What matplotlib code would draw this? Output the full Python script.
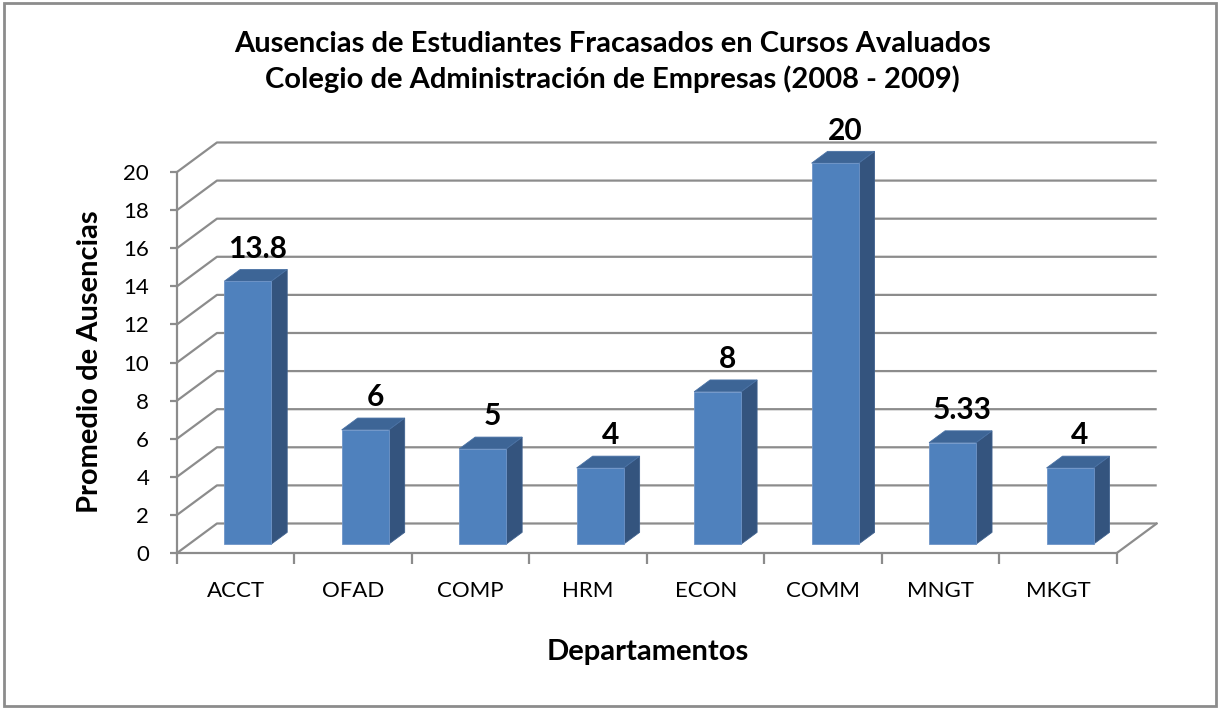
import matplotlib
matplotlib.use('Agg')
import matplotlib.pyplot as plt
from matplotlib.patches import Polygon, Rectangle

plt.rcParams['font.family'] = ['Lato', 'DejaVu Sans']

# ========== 数据 ==========
departamentos = ['ACCT', 'OFAD', 'COMP', 'HRM', 'ECON', 'COMM', 'MNGT', 'MKGT']
ausencias = [13.8, 6, 5, 4, 8, 20, 5.33, 4]
etiquetas = ['13.8', '6', '5', '4', '8', '20', '5.33', '4']
y_ticks = list(range(0, 21, 2))

titulo = 'Ausencias de Estudiantes Fracasados en Cursos Avaluados\nColegio de Administración de Empresas (2008 - 2009)'

# 3D 偏移（数据单位）
DX, DY = 0.34, 1.55
D0, D1 = 0.3, 0.7          # 柱子在深度方向的位置
BAR_W = 0.4
n = len(departamentos)

fig = plt.figure(figsize=(12.2, 7.08), dpi=100)
ax = fig.add_axes([0.1451, 0.2189, 0.804, 0.582])
ax.set_xlim(0, n + DX + 0.01)
ax.set_ylim(0, 21.63)

grid_c = '#8c8c8c'
# 背景网格（后墙 + 左墙斜线）
for v in y_ticks:
    ax.plot([0, DX, n + DX], [v, v + DY, v + DY], color=grid_c, lw=1.6, zorder=1,
            solid_capstyle='butt')
# 地板右侧边
ax.plot([n, n + DX], [0, DY], color=grid_c, lw=1.6, zorder=1)

# 柱子
front_c, side_c, top_c = '#4F81BD', '#34547E', '#3D6596'
for i, v in enumerate(ausencias):
    x0 = i + 0.5 - BAR_W / 2 + D0 * DX
    y0 = D0 * DY
    ox, oy = (D1 - D0) * DX, (D1 - D0) * DY
    front = Rectangle((x0, y0), BAR_W, v, facecolor=front_c, edgecolor='#6f95c8', lw=0.6, zorder=3)
    side = Polygon([(x0 + BAR_W, y0), (x0 + BAR_W + ox, y0 + oy),
                    (x0 + BAR_W + ox, y0 + oy + v), (x0 + BAR_W, y0 + v)],
                   closed=True, facecolor=side_c, edgecolor='#3f618e', lw=0.6, zorder=3)
    top = Polygon([(x0, y0 + v), (x0 + ox, y0 + oy + v),
                   (x0 + BAR_W + ox, y0 + oy + v), (x0 + BAR_W, y0 + v)],
                  closed=True, facecolor=top_c, edgecolor='#4a72a5', lw=0.6, zorder=3)
    for p in (side, top, front):
        ax.add_patch(p)
    ax.text(i + 0.5 + 0.55 * DX, v + D1 * DY + 0.35, etiquetas[i],
            ha='center', va='bottom', fontsize=21.5, fontweight='bold', zorder=4)

# 坐标轴
for s in ('top', 'right'):
    ax.spines[s].set_visible(False)
ax.spines['left'].set_bounds(0, 20)
ax.spines['bottom'].set_bounds(0, n)
for s in ('left', 'bottom'):
    ax.spines[s].set_color(grid_c)
    ax.spines[s].set_linewidth(1.6)

ax.set_yticks(y_ticks)
ax.tick_params(axis='y', length=5, width=1.6, color=grid_c, pad=15, labelsize=16)
ax.set_xticks(range(n + 1))
ax.set_xticklabels([])
ax.set_xticks([i + 0.5 for i in range(n)], minor=True)
ax.set_xticklabels(departamentos, minor=True, fontsize=16)
ax.tick_params(axis='x', which='major', length=8, width=1.6, color=grid_c)
ax.tick_params(axis='x', which='minor', length=0, pad=20)

fig.text(0.0738, 0.4887, 'Promedio de Ausencias', rotation=90, ha='center', va='center',
         fontsize=21, fontweight='bold')
fig.text(0.531, 0.079, 'Departamentos', ha='center', va='center', fontsize=21, fontweight='bold')
fig.text(0.502, 0.912, titulo, ha='center', va='center', fontsize=21, fontweight='bold',
         linespacing=1.38)

# 图表外框
fig.add_artist(Rectangle((0.003, 0.003), 0.994, 0.993, transform=fig.transFigure,
                         fill=False, edgecolor='#8c8c8c', lw=2))

plt.savefig('out.png', dpi=100)
plt.close()
